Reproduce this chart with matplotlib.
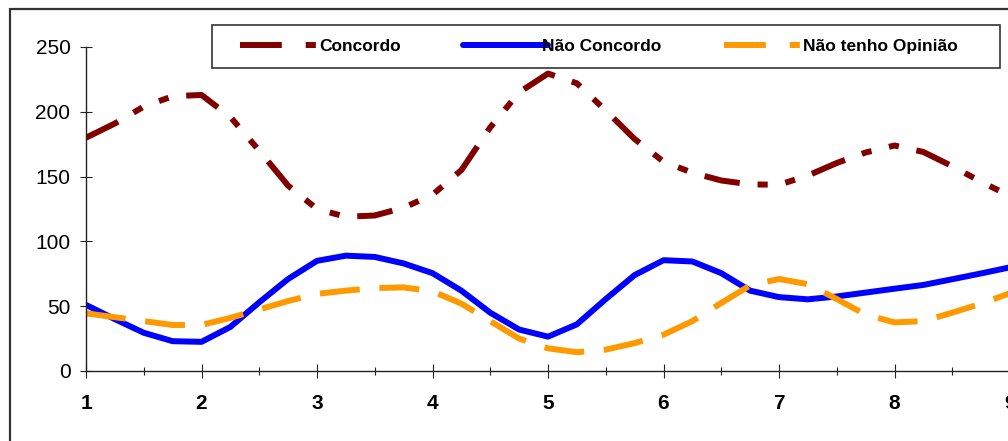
import matplotlib
matplotlib.use('Agg')
import matplotlib.pyplot as plt
from matplotlib.lines import Line2D
from matplotlib.patches import Rectangle
from matplotlib.ticker import MultipleLocator

plt.rcParams['font.family'] = ['Liberation Sans', 'DejaVu Sans']

# values every quarter step
x = [1, 1.25, 1.5, 1.75, 2, 2.25, 2.5, 2.75, 3, 3.25, 3.5, 3.75, 4, 4.25, 4.5, 4.75,
     5, 5.25, 5.5, 5.75, 6, 6.25, 6.5, 6.75, 7, 7.25, 7.5, 7.75, 8, 8.25, 8.5, 8.75, 9]
concordo = [180, 191, 204, 212, 213, 196, 170, 143, 125, 119, 120, 126, 136, 155, 188, 215,
            229.5, 222, 201, 179, 161.5, 153, 147, 144, 143.7, 150.8, 160.5, 168.6, 174, 169, 158, 146, 135]
nao_concordo = [51, 40, 29.5, 23, 22.5, 34, 53, 71, 85, 89, 88, 83, 75.5, 62, 45, 32,
                26.5, 36, 55.5, 74, 85.5, 84.5, 75.5, 62, 57, 55.3, 57.5, 60.5, 63.5, 66.4, 70.8, 75.3, 80]
sem_opiniao = [44.5, 41.5, 38.5, 35.5, 35.5, 41, 47.5, 54, 59.5, 62, 64, 64.5, 61.5, 52, 38.5, 25,
               17.5, 14.5, 16.5, 21.5, 28, 38.5, 52.5, 66, 71, 67, 55.5, 43.5, 37.5, 38.5, 45, 52, 60]
labels = ['Concordo', 'Não Concordo', 'Não tenho Opinião']
colors = ['#800000', '#0000FF', '#FF9900']

W, H = 1008, 441
fig = plt.figure(figsize=(W / 100, H / 100), dpi=100)

# outer chart frame (cut off at right and bottom)
fig.patches.append(Rectangle((9.5 / W, -0.2), 1.2, 1.2 - 9 / H,
                             transform=fig.transFigure, fill=False,
                             edgecolor='#333333', linewidth=1.6))

ax = fig.add_axes([86 / W, (H - 371) / H, (1010 - 86) / W, (371 - 47) / H])
lw = 4.3
ax.plot(x, concordo, color=colors[0], lw=lw, dashes=(6, 3, 1.7, 3, 1.7, 3),
        dash_capstyle='butt')
ax.plot(x, nao_concordo, color=colors[1], lw=lw, solid_capstyle='round',
        solid_joinstyle='round')
ax.plot(x, sem_opiniao, color=colors[2], lw=lw, dashes=(6.7, 3.3),
        dash_capstyle='butt')

ax.set_xlim(1, 9)
ax.set_ylim(0, 250)
ax.xaxis.set_major_locator(MultipleLocator(1))
ax.xaxis.set_minor_locator(MultipleLocator(0.5))
ax.yaxis.set_major_locator(MultipleLocator(50))
for s in ['top', 'right']:
    ax.spines[s].set_visible(False)
for s in ['left', 'bottom']:
    ax.spines[s].set_color('#222222')
    ax.spines[s].set_linewidth(1.0)
ax.tick_params(axis='y', direction='inout', length=8.4, width=0.8, pad=7,
               labelsize=15, colors='#222222', labelcolor='black')
ax.tick_params(axis='x', which='major', direction='inout', length=9.4, width=0.8,
               pad=12, labelsize=15, colors='#222222', labelcolor='black')
ax.tick_params(axis='x', which='minor', direction='inout', length=5.8, width=0.8,
               colors='#222222')
ax.set_xticks(range(1, 10))
ax.set_xticklabels([str(i) for i in range(1, 10)], fontweight='bold')

# legend box
fig.patches.append(Rectangle((212 / W, (H - 68) / H), (1000 - 212) / W, 43 / H,
                             transform=fig.transFigure, fill=True, facecolor='white',
                             edgecolor='#333333', linewidth=1.2, zorder=3))
handles = [
    Line2D([], [], color=colors[0], lw=lw, dashes=(7, 4, 1.7, 4), dash_capstyle='butt'),
    Line2D([], [], color=colors[1], lw=lw, solid_capstyle='round'),
    Line2D([], [], color=colors[2], lw=lw, dashes=(7, 4, 1.7, 4), dash_capstyle='butt'),
]
leg = fig.legend(handles, labels, ncol=3, frameon=False, loc='center left',
                 bbox_to_anchor=(240 / W, (H - 46.5) / H),
                 borderpad=0, borderaxespad=0, handlelength=4.86, handletextpad=-0.3,
                 columnspacing=3.6, prop={'weight': 'bold', 'size': 12.5})
leg.set_zorder(4)

fig.savefig('out.png', dpi=100)
